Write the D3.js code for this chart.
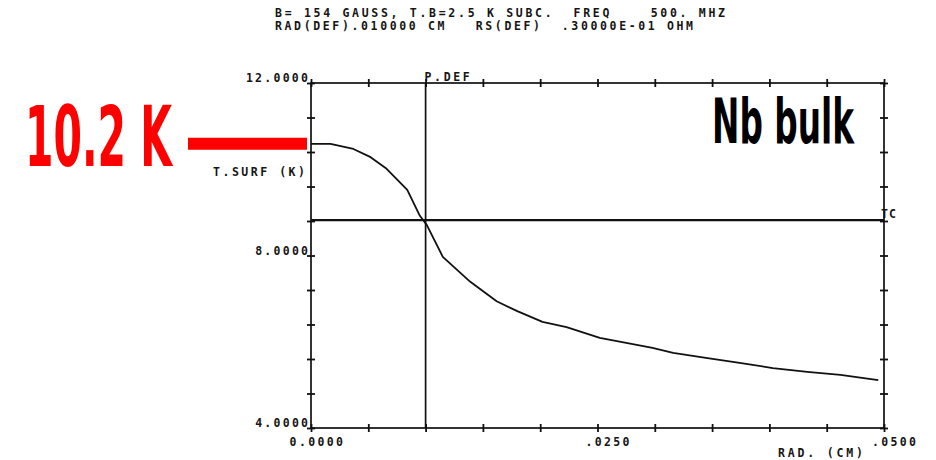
<!DOCTYPE html>
<html>
<head>
<meta charset="utf-8">
<script src="https://cdn.jsdelivr.net/npm/d3@7"></script>
<style>
  html, body { margin: 0; padding: 0; background: #fff; }
  svg { display: block; }
  .plot { font-family: "DejaVu Sans Mono", "Liberation Mono", monospace; font-size: 11.5px; font-weight: bold; fill: #151515; }
</style>
</head>
<body>
<svg id="chart" width="936" height="460"></svg>
<script>
// Surface temperature vs. defect radius (Nb bulk)
const radius = [0, 0.0017, 0.0037, 0.0052, 0.0066, 0.0084, 0.0095, 0.0101, 0.0115, 0.0139, 0.0162,
                0.0180, 0.0202, 0.0223, 0.0252, 0.0298, 0.0316, 0.0346, 0.0374, 0.0403, 0.0433, 0.0462, 0.0495];
const tSurf = [10.59, 10.59, 10.47, 10.28, 10.01, 9.52, 8.92, 8.71, 7.97, 7.39, 6.94,
               6.71, 6.46, 6.34, 6.09, 5.86, 5.74, 5.62, 5.51, 5.39, 5.30, 5.23, 5.11];

const yTickValues = [12, 8, 4];
const yTickLabels = ["12.0000", "8.0000", "4.0000"];
const xTickValues = [0, 0.025, 0.05];
const xTickLabels = ["0.0000", ".0250", ".0500"];

const radDef = 0.01;   // P.DEF marker
const tc = 8.82;       // critical temperature line

const headerLines = [
  "B= 154 GAUSS, T.B=2.5 K SUBC.  FREQ    500. MHZ",
  "RAD(DEF).010000 CM   RS(DEF)  .30000E-01 OHM"
];
const yTitle = "T.SURF (K)";
const xTitle = "RAD. (CM)";
const defLabel = "P.DEF";
const tcLabel = "TC";
const annotText = "10.2 K";
const materialText = "Nb bulk";

// keep runs of spaces in plotter-style strings
const keepSpaces = s => s.replace(/ /g, "\u00A0");

const svg = d3.select("#chart");
const x = d3.scaleLinear().domain([0, 0.05]).range([311, 884]);
const y = d3.scaleLinear().domain([4, 12]).range([428, 83]);

const xMinor = d3.range(0, 11).map(i => i * 0.005);
const yMinor = d3.range(0, 11).map(i => 4 + i * 0.8);

const g = svg.append("g").attr("class", "plot");

// header
g.selectAll("text.hdr").data(headerLines).join("text")
  .attr("class", "hdr")
  .attr("x", 275)
  .attr("y", (d, i) => 17 + i * 13)
  .attr("textLength", (d, i) => i === 0 ? 450 : 418)
  .attr("lengthAdjust", "spacing")
  .text(d => keepSpaces(d));

// frame
g.append("rect")
  .attr("x", x(0)).attr("y", y(12))
  .attr("width", x(0.05) - x(0)).attr("height", y(4) - y(12))
  .attr("fill", "none").attr("stroke", "#111").attr("stroke-width", 1.7);

// cross ticks built from paired axes
function crossTicks(axisA, axisB, transform, values) {
  [axisA, axisB].forEach(ax => {
    g.append("g").attr("transform", transform)
      .call(ax.tickValues(values).tickSize(4).tickFormat(""))
      .call(s => s.select(".domain").remove())
      .call(s => s.selectAll("line").attr("stroke", "#111").attr("stroke-width", 1.8));
  });
}
crossTicks(d3.axisLeft(y), d3.axisRight(y), `translate(${x(0)},0)`, yMinor);
crossTicks(d3.axisLeft(y), d3.axisRight(y), `translate(${x(0.05)},0)`, yMinor);
crossTicks(d3.axisTop(x), d3.axisBottom(x), `translate(0,${y(4)})`, xMinor);
crossTicks(d3.axisTop(x), d3.axisBottom(x), `translate(0,${y(12)})`, xMinor);

// y labels
g.selectAll("text.ylab").data(yTickValues).join("text")
  .attr("class", "ylab")
  .attr("x", x(0) - 3)
  .attr("y", d => y(d) - 1)
  .attr("text-anchor", "end")
  .attr("textLength", (d, i) => yTickLabels[i].length * 9.3 - 3)
  .attr("lengthAdjust", "spacing")
  .text((d, i) => yTickLabels[i]);

// x labels (decimal point sits just left of the tick)
g.selectAll("text.xlab").data(xTickValues).join("text")
  .attr("class", "xlab")
  .attr("x", (d, i) => x(d) - 12 - xTickLabels[i].indexOf(".") * 9.4)
  .attr("y", 446)
  .attr("textLength", (d, i) => xTickLabels[i].length * 9.4 - 3)
  .attr("lengthAdjust", "spacing")
  .text((d, i) => xTickLabels[i]);

// axis titles
g.append("text").attr("x", 213).attr("y", 176)
  .attr("textLength", 92).attr("lengthAdjust", "spacing").text(keepSpaces(yTitle));
g.append("text").attr("x", 778).attr("y", 457)
  .attr("textLength", 85).attr("lengthAdjust", "spacing").text(keepSpaces(xTitle));

// P.DEF vertical line
g.append("line")
  .attr("x1", x(radDef)).attr("x2", x(radDef))
  .attr("y1", y(12)).attr("y2", y(4))
  .attr("stroke", "#111").attr("stroke-width", 1.7);
g.append("text").attr("x", x(radDef) - 1).attr("y", 81)
  .attr("textLength", 45).attr("lengthAdjust", "spacing").text(defLabel);

// Tc horizontal line
g.append("line")
  .attr("x1", x(0)).attr("x2", x(0.05))
  .attr("y1", y(tc)).attr("y2", y(tc))
  .attr("stroke", "#111").attr("stroke-width", 2.2);
g.append("text").attr("x", x(0.05) - 3).attr("y", y(tc) - 2)
  .attr("textLength", 15).attr("lengthAdjust", "spacing").text(tcLabel);

// surface temperature curve
const line = d3.line().x((d, i) => x(radius[i])).y(d => y(d));
g.append("path")
  .datum(tSurf)
  .attr("d", line)
  .attr("fill", "none")
  .attr("stroke", "#111")
  .attr("stroke-width", 1.8)
  .attr("stroke-linejoin", "round");

// annotation: peak surface temperature
const big = svg.append("g")
  .style("font-family", "'Liberation Sans Narrow', 'DejaVu Sans Condensed', 'Liberation Sans', sans-serif")
  .style("font-weight", "bold");

big.append("line")
  .attr("x1", 188).attr("x2", x(0) - 4)
  .attr("y1", y(tSurf[0])).attr("y2", y(tSurf[0]))
  .attr("stroke", "#ff0000").attr("stroke-width", 12);

// condensed display text: squeeze horizontally to the target width
function squeezed(str, left, base, size, width, color) {
  const t = big.append("text")
    .attr("x", 0).attr("y", 0)
    .style("font-size", size + "px")
    .attr("fill", color)
    .text(str);
  const natural = t.node().getComputedTextLength();
  t.attr("transform", `translate(${left},${base}) scale(${width / natural},1)`);
}
squeezed(annotText, 25, 166, 84, 147, "#ff0000");
squeezed(materialText, 712, 143, 63, 142, "#000");
</script>
</body>
</html>
